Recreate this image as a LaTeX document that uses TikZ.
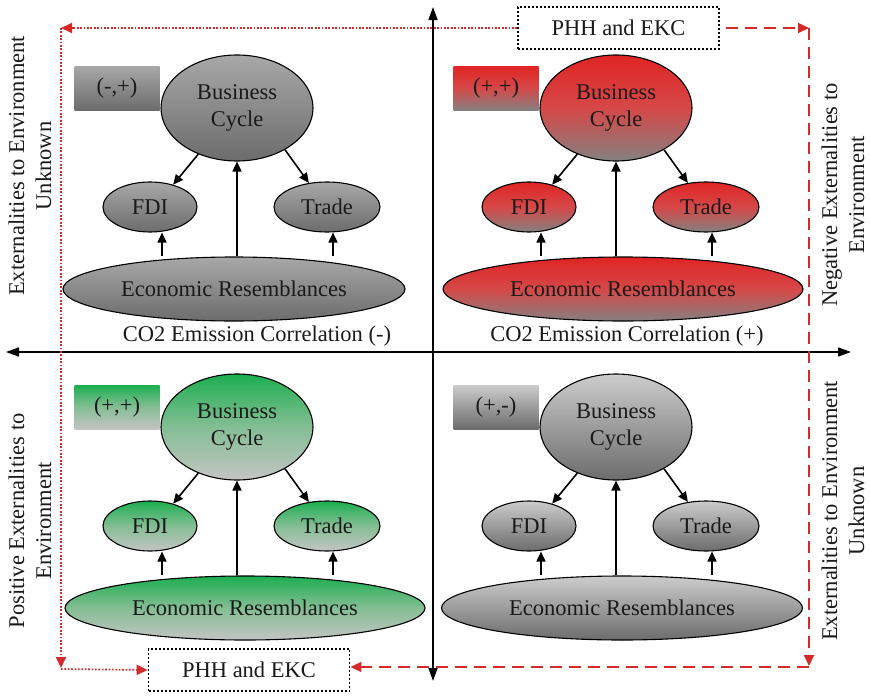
\documentclass[tikz,border=0pt]{standalone}
\usepackage{fontspec}
\setmainfont{Liberation Serif}
\usetikzlibrary{shapes.geometric,arrows.meta,calc}
\definecolor{rl}{HTML}{D42A2A}
\definecolor{txt}{HTML}{1A1A1A}
\tikzset{
  el/.style={ellipse,draw=black,line width=1.1pt,inner sep=0pt,align=center,text=txt},
  labbox/.style={minimum width=85pt,minimum height=44pt,inner sep=0pt,text=txt},
  qTL/.style={top color=gray!62,bottom color=gray!105!black!100,shading angle=0},
  qTLx/.style={top color={rgb,255:red,168;green,168;blue,168},bottom color={rgb,255:red,108;green,108;blue,108}},
  qTR/.style={top color={rgb,255:red,224;green,36;blue,36},bottom color={rgb,255:red,132;green,128;blue,128},middle color={rgb,255:red,214;green,72;blue,72}},
  qBL/.style={top color={rgb,255:red,28;green,174;blue,80},bottom color={rgb,255:red,196;green,196;blue,196},middle color={rgb,255:red,132;green,190;blue,148}},
  qBR/.style={top color={rgb,255:red,204;green,204;blue,204},bottom color={rgb,255:red,108;green,108;blue,108}},
  arr/.style={-{Triangle[length=10pt,width=9pt]},line width=1.6pt,black},
  axis/.style={{Triangle[length=13pt,width=9pt]}-{Triangle[length=13pt,width=9pt]},line width=1.5pt,black},
  rdot/.style={rl,line width=1.7pt,dash pattern=on 1.7pt off 1.7pt,-{Triangle[length=11pt,width=10pt]}},
  rdash/.style={rl,line width=1.7pt,dash pattern=on 12pt off 7pt,-{Triangle[length=11pt,width=10pt]}},
  phh/.style={draw=black,line width=1.8pt,dash pattern=on 2pt off 2pt,fill=white,minimum width=201pt,minimum height=42pt,inner sep=0pt,text=txt},
  side/.style={rotate=90,align=center,text=txt,inner sep=0pt},
  co/.style={text=txt,inner sep=0pt}
}
\newcommand\quadr[7]{%
\begin{scope}[shift={(#2,#3)}]
 \node[labbox,#5] (#1lab) at (117,88) {#4};
 \node[el,#5,minimum width=152pt,minimum height=106pt] (#1bc) at (237,108) {Business\\Cycle};
 \node[el,#5,minimum width=94pt,minimum height=50pt] (#1fdi) at (150,207) {FDI};
 \node[el,#5,minimum width=106pt,minimum height=50pt] (#1tr) at (327,207) {Trade};
 \node[el,#5,minimum width=#7pt,minimum height=64pt] (#1er) at (#6,289) {Economic Resemblances};
\end{scope}
\draw[arr] (#1bc.-130) -- (#1fdi.44);
\draw[arr] (#1bc.-41) -- (#1tr.127);
\draw[arr] (#1bc.south |- #1er.north) -- (#1bc.south);
\draw[arr] ([xshift=12pt]#1fdi.south |- #1er.north) -- ([xshift=12pt]#1fdi.south);
\draw[arr] ([xshift=6pt]#1tr.south |- #1er.north) -- ([xshift=6pt]#1tr.south);
}
\begin{document}
\begin{tikzpicture}[x=1pt,y=-1pt,font=\fontsize{22.5}{27}\selectfont]
\useasboundingbox (0,0) rectangle (870,696);
% axes
\coordinate (vtop) at (433,7);
\coordinate (vbot) at (433,681);
\coordinate (hl) at (6,352);
\coordinate (hr) at (851,352);
\draw[axis] (vtop) -- (vbot);
\draw[axis] (hl) -- (hr);
% quadrants
\quadr{a}{0}{0}{(-,+)}{qTLx}{234}{342}
\quadr{b}{379}{0}{(+,+)}{qTR}{244}{360}
\quadr{c}{0}{319}{(+,+)}{qBL}{245}{360}
\quadr{d}{379}{319}{(+,-)}{qBR}{243}{361}
% CO2 labels
\node[co] (co1) at (257,336) {CO2 Emission Correlation (-)};
\node[co] (co2) at (627,336) {CO2 Emission Correlation (+)};
% PHH boxes
\node[phh] (ptop) at (618.5,28) {PHH and EKC};
\node[phh] (pbot) at (249,670) {PHH and EKC};
% corner coordinates
\coordinate (ctl) at (61,28);
\coordinate (cbl) at (61,669);
\coordinate (ctr) at (809,28);
\coordinate (cbr) at (809,667);
% red connectors
\draw[rdot] (ptop.west) -- (ctl);
\draw[rdot] (ctl) -- ([yshift=1pt]cbl);
\draw[rdot] (cbl) -- (pbot.west);
\draw[rdash] ([xshift=6pt]ptop.east) -- (ctr);
\draw[rdash] (ctr) -- ([yshift=1pt]cbr);
\draw[rdash] (cbr) -- (pbot.east |- cbr);
% side labels
\node[side] (sl1) at (30,166) {Externalities to Environment\\Unknown};
\node[side] (sl2) at (30,521) {Positive Externalities to\\Environment};
\node[side] (sr1) at (843,195) {Negative Externalities to\\Environment};
\node[side] (sr2) at (843,511) {Externalities to Environment\\Unknown};
\end{tikzpicture}
\end{document}
